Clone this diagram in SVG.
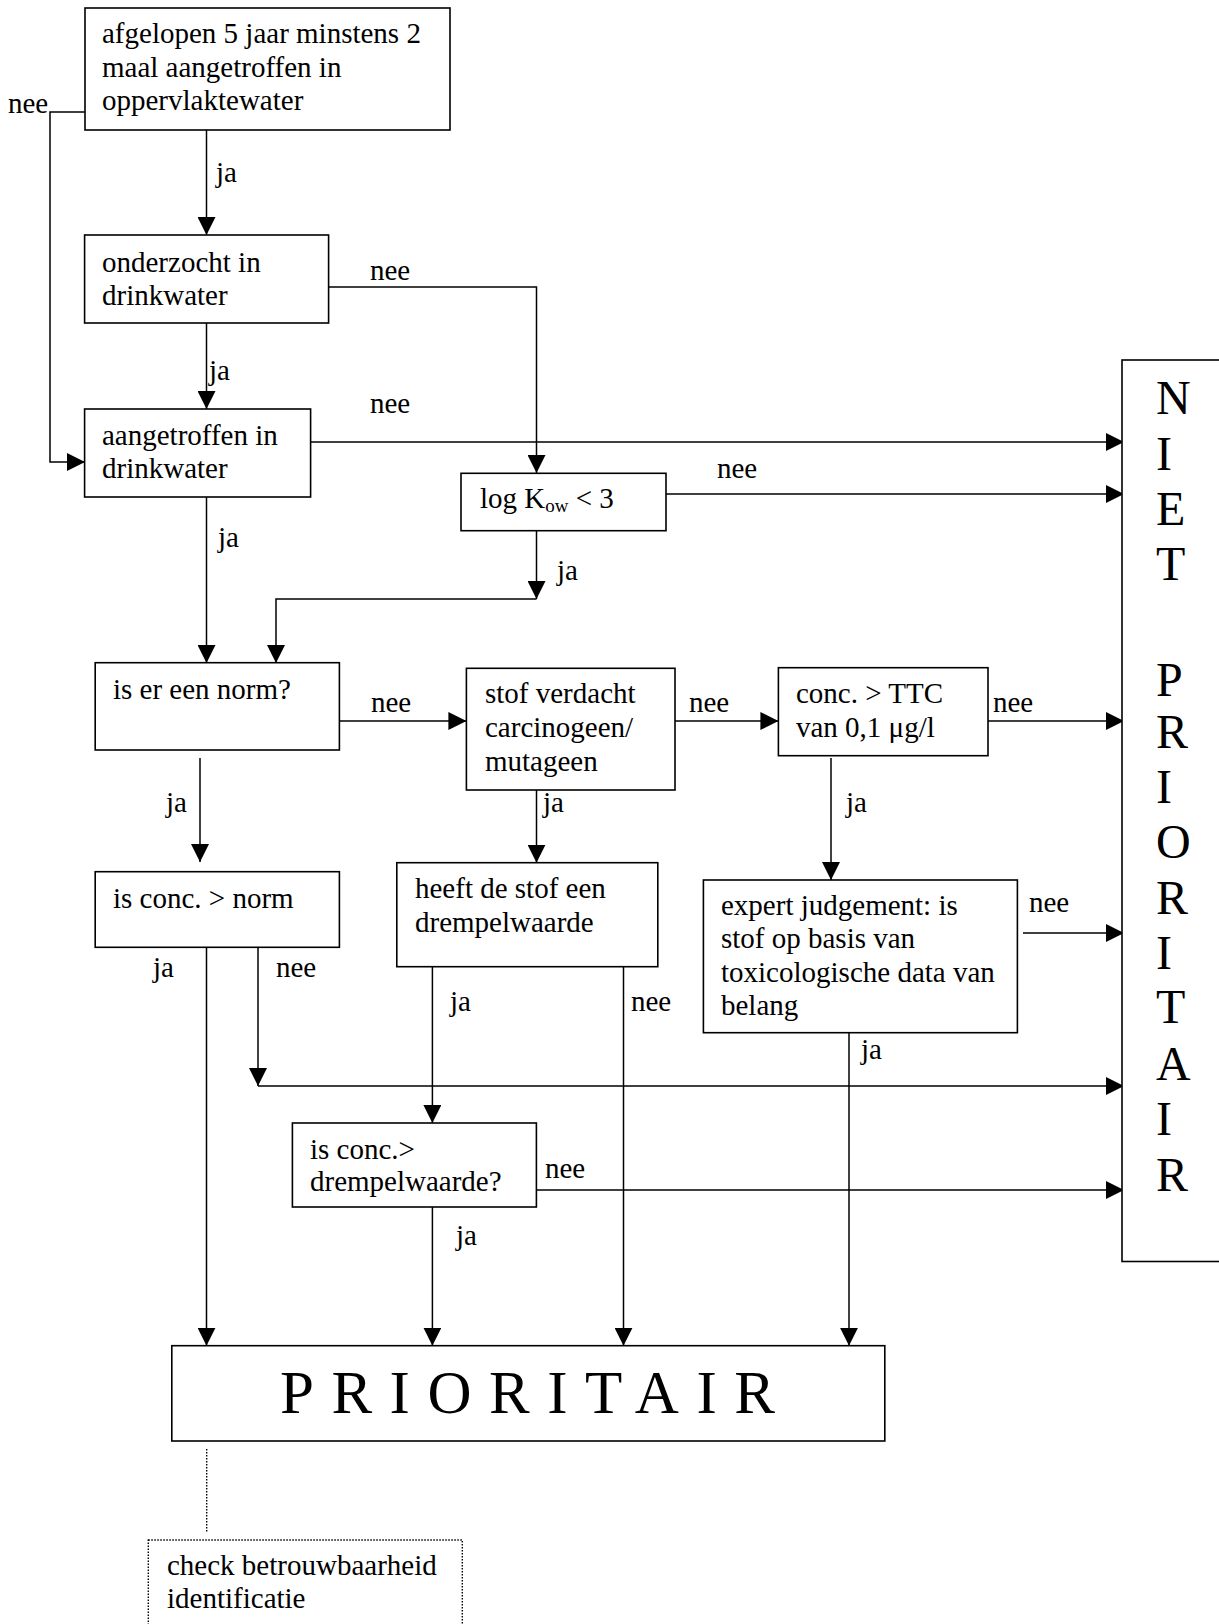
<svg xmlns="http://www.w3.org/2000/svg" width="1219" height="1624" viewBox="0 0 1219 1624">
<style>
.box{fill:#fff;stroke:#000;stroke-width:1.6}
.dot{fill:none;stroke:#000;stroke-width:1.4;stroke-dasharray:1.5 1.5}
.t{font-family:"Liberation Serif","Times New Roman",serif;font-size:29px;fill:#000}
.big{font-family:"Liberation Serif","Times New Roman",serif;font-size:48px;fill:#000}
.prio{font-family:"Liberation Serif","Times New Roman",serif;font-size:61px;letter-spacing:17.5px;fill:#000}
.c{fill:none;stroke:#000;stroke-width:1.5}
.a{marker-end:url(#ah)}
</style>
<defs>
<marker id="ah" markerUnits="userSpaceOnUse" markerWidth="18" markerHeight="18" refX="18" refY="9" orient="auto">
<path d="M0,0 L18,9 L0,18 z" fill="#000"/>
</marker>
</defs>
<rect width="1219" height="1624" fill="#fff"/>

<g id="connectors">
<path class="c a" d="M206.5,130 V235"/>
<path class="c a" d="M85,112 H50 V462 H85"/>
<path class="c a" d="M206.5,323 V409"/>
<path class="c a" d="M328.6,287 H536.5 V473"/>
<path class="c a" d="M310.7,442 H1124"/>
<path class="c a" d="M206.5,497 V663"/>
<path class="c a" d="M666,494 H1124"/>
<path class="c a" d="M536.5,531 V599"/>
<path class="c a" d="M536.5,599 H276 V663"/>
<path class="c a" d="M339.4,721 H466.4"/>
<path class="c a" d="M200,758 V862"/>
<path class="c a" d="M675,721 H778.4"/>
<path class="c a" d="M536.5,790 V862.7"/>
<path class="c a" d="M988,721 H1124"/>
<path class="c a" d="M831,758 V880"/>
<path class="c a" d="M1023,933 H1124"/>
<path class="c a" d="M206.5,947 V1345.7"/>
<path class="c a" d="M258,947 V1086"/>
<path class="c a" d="M258,1086 H1124"/>
<path class="c a" d="M432.4,967 V1123"/>
<path class="c a" d="M623.5,967 V1345.7"/>
<path class="c a" d="M536.3,1190 H1124"/>
<path class="c a" d="M432.4,1207 V1345.7"/>
<path class="c a" d="M849,1032.7 V1345.7"/>
<path class="dot" d="M206.7,1449 V1533"/>
<g class="t">
<text x="8" y="113">nee</text>
<text x="216" y="182">ja</text>
<text x="370" y="280">nee</text>
<text x="209" y="380">ja</text>
<text x="370" y="413">nee</text>
<text x="717" y="478">nee</text>
<text x="218" y="547">ja</text>
<text x="557" y="580">ja</text>
<text x="371" y="712">nee</text>
<text x="166" y="812">ja</text>
<text x="543" y="812">ja</text>
<text x="689" y="712">nee</text>
<text x="993" y="712">nee</text>
<text x="846" y="812">ja</text>
<text x="1029" y="912">nee</text>
<text x="153" y="977">ja</text>
<text x="276" y="977">nee</text>
<text x="450" y="1011">ja</text>
<text x="631" y="1011">nee</text>
<text x="861" y="1059">ja</text>
<text x="545" y="1178">nee</text>
<text x="456" y="1245">ja</text>
</g>
</g>

<g id="n-oppervlaktewater">
<rect class="box" x="85" y="8" width="365" height="122"/>
<text class="t" x="102" y="43">afgelopen 5 jaar minstens 2</text>
<text class="t" x="102" y="77">maal aangetroffen in</text>
<text class="t" x="102" y="110">oppervlaktewater</text>
</g>
<g id="n-onderzocht">
<rect class="box" x="84.6" y="235" width="244" height="88"/>
<text class="t" x="102" y="272">onderzocht in</text>
<text class="t" x="102" y="305">drinkwater</text>
</g>
<g id="n-aangetroffen">
<rect class="box" x="84.6" y="409" width="226" height="88"/>
<text class="t" x="102" y="445">aangetroffen in</text>
<text class="t" x="102" y="478">drinkwater</text>
</g>
<g id="n-logkow">
<rect class="box" x="461" y="473.3" width="205" height="57.4"/>
<text class="t" x="480" y="508">log K<tspan font-size="19" dy="4">ow</tspan><tspan dy="-4"> &lt; 3</tspan></text>
</g>
<g id="n-norm">
<rect class="box" x="95.2" y="662.7" width="244.2" height="87.3"/>
<text class="t" x="113" y="699">is er een norm?</text>
</g>
<g id="n-carcinogeen">
<rect class="box" x="466.4" y="668.3" width="208.6" height="121.7"/>
<text class="t" x="485" y="703">stof verdacht</text>
<text class="t" x="485" y="737">carcinogeen/</text>
<text class="t" x="485" y="771">mutageen</text>
</g>
<g id="n-ttc">
<rect class="box" x="778.4" y="667.7" width="209.6" height="88"/>
<text class="t" x="796" y="703">conc. &gt; TTC</text>
<text class="t" x="796" y="737">van 0,1 μg/l</text>
</g>
<g id="n-concnorm">
<rect class="box" x="95.2" y="871.7" width="244.2" height="75.6"/>
<text class="t" x="113" y="908">is conc. &gt; norm</text>
</g>
<g id="n-drempelwaarde">
<rect class="box" x="396.8" y="862.7" width="261" height="104"/>
<text class="t" x="415" y="898">heeft de stof een</text>
<text class="t" x="415" y="932">drempelwaarde</text>
</g>
<g id="n-expert">
<rect class="box" x="703.4" y="880" width="314" height="152.7"/>
<text class="t" x="721" y="915">expert judgement: is</text>
<text class="t" x="721" y="948">stof op basis van</text>
<text class="t" x="721" y="982">toxicologische data van</text>
<text class="t" x="721" y="1015">belang</text>
</g>
<g id="n-concdrempel">
<rect class="box" x="292.4" y="1123" width="244" height="84"/>
<text class="t" x="310" y="1159">is conc.&gt;</text>
<text class="t" x="310" y="1191">drempelwaarde?</text>
</g>
<g id="n-prioritair">
<rect class="box" x="171.8" y="1345.7" width="713" height="95.3"/>
<text class="prio" x="280" y="1413">PRIORITAIR</text>
</g>
<g id="n-niet-prioritair">
<rect class="box" x="1122" y="360" width="140" height="901.5"/>
<g class="big">
<text x="1156" y="414">N</text>
<text x="1156" y="470">I</text>
<text x="1156" y="525">E</text>
<text x="1156" y="580">T</text>
<text x="1156" y="696">P</text>
<text x="1156" y="748">R</text>
<text x="1156" y="803">I</text>
<text x="1156" y="858">O</text>
<text x="1156" y="914">R</text>
<text x="1156" y="969">I</text>
<text x="1156" y="1023">T</text>
<text x="1156" y="1080">A</text>
<text x="1156" y="1135">I</text>
<text x="1156" y="1191">R</text>
</g>
</g>
<g id="n-check">
<rect class="dot" x="148.3" y="1540" width="314" height="120"/>
<text class="t" x="167" y="1575">check betrouwbaarheid</text>
<text class="t" x="167" y="1608">identificatie</text>
</g>
</svg>
